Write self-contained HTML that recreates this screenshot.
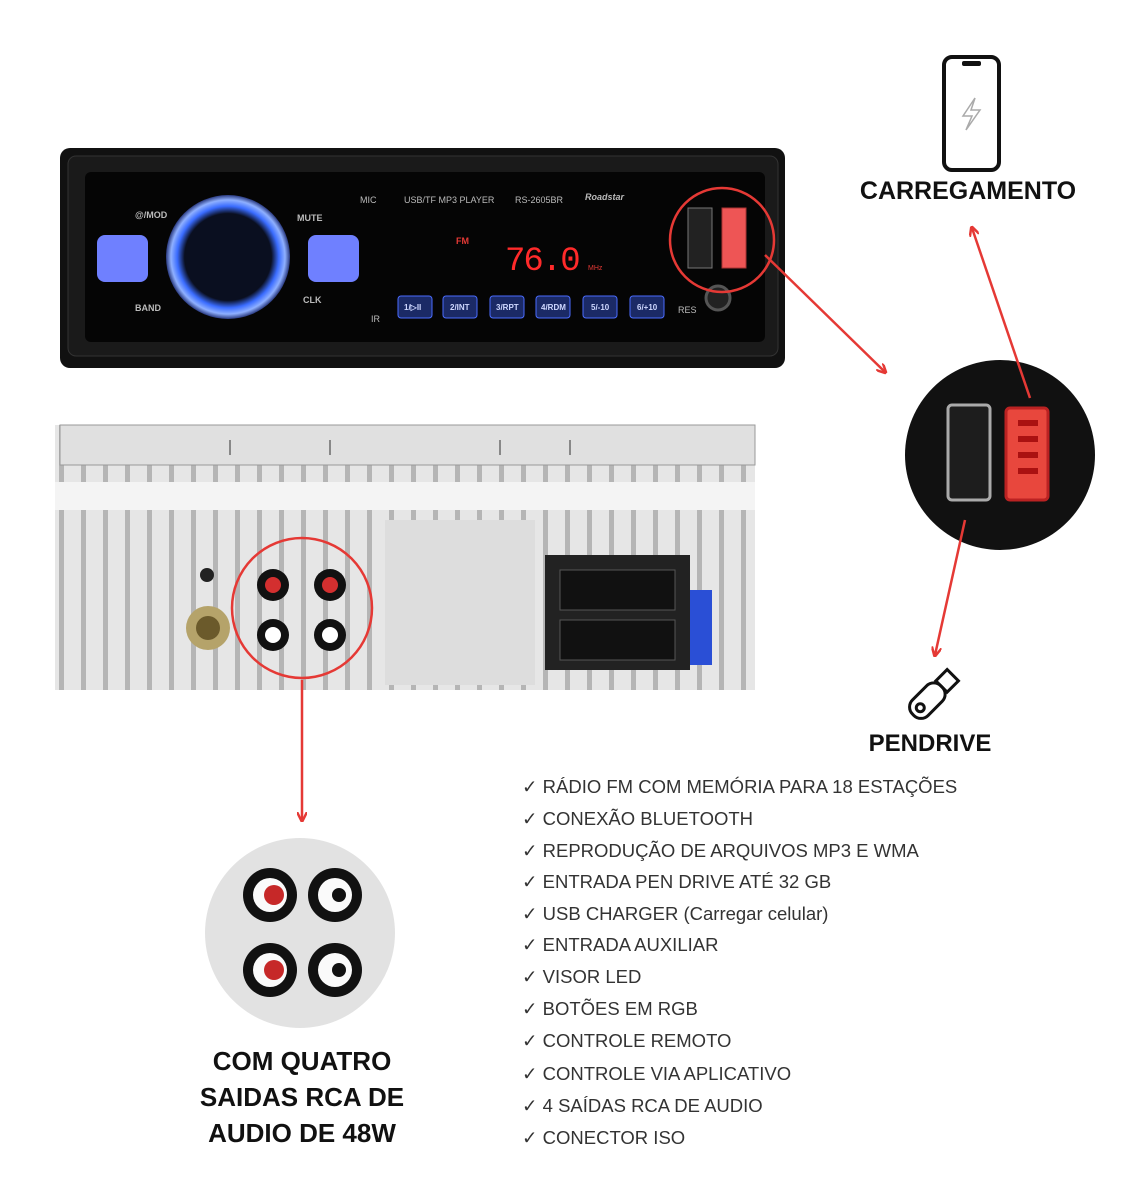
<!DOCTYPE html>
<html><head><meta charset="utf-8"><style>
body{margin:0;background:#fff;width:1148px;height:1200px;overflow:hidden;font-family:"Liberation Sans",sans-serif}
svg{position:absolute;left:0;top:0}
</style></head><body>
<svg width="1148" height="1200" viewBox="0 0 1148 1200" xmlns="http://www.w3.org/2000/svg">
<defs>
<radialGradient id="knob" cx="50%" cy="50%" r="50%"><stop offset="70%" stop-color="#0a0f20"/><stop offset="82%" stop-color="#3a6cff"/><stop offset="92%" stop-color="#8fb0ff"/><stop offset="100%" stop-color="#2a3a80"/></radialGradient>
<marker id="ah" markerWidth="10" markerHeight="10" refX="8" refY="5" orient="auto" markerUnits="userSpaceOnUse"><path d="M0,0 L10,5 L0,10" fill="none" stroke="#e53935" stroke-width="2.5"/></marker>
<pattern id="fins" width="22" height="10" patternUnits="userSpaceOnUse"><rect width="22" height="10" fill="#e6e6e6"/><rect x="15" width="5" height="10" fill="#b5b5b5"/></pattern>
</defs>
<rect x="60" y="148" width="725" height="220" rx="10" fill="#111"/>
<rect x="68" y="156" width="710" height="200" rx="8" fill="#1a1a1a" stroke="#333"/>
<rect x="85" y="172" width="680" height="170" rx="6" fill="#050505"/>
<rect x="97" y="235" width="51" height="47" rx="8" fill="#6f80ff"/>
<rect x="308" y="235" width="51" height="47" rx="8" fill="#6f80ff"/>
<circle cx="228" cy="257" r="62" fill="url(#knob)"/>
<g fill="#bbb" font-size="9" font-weight="bold">
<text x="135" y="218">@/MOD</text><text x="297" y="221">MUTE</text><text x="135" y="311">BAND</text><text x="303" y="303">CLK</text>
<text x="360" y="203" font-weight="normal">MIC</text><text x="404" y="203" font-weight="normal">USB/TF MP3 PLAYER</text><text x="515" y="203" font-weight="normal">RS-2605BR</text><text x="585" y="200" font-style="italic">Roadstar</text>
<text x="678" y="313" font-weight="normal">RES</text><text x="371" y="322" font-weight="normal">IR</text>
</g>
<text x="456" y="244" fill="#e53935" font-size="9" font-weight="bold">FM</text>
<text x="505" y="270" fill="#ff2a2a" font-size="34" font-family="Liberation Mono" letter-spacing="-2">76.0</text>
<text x="588" y="270" fill="#e53935" font-size="7">MHz</text>
<g fill="#1b2a66" stroke="#4a6cff" stroke-width="1">
<rect x="398" y="296" width="34" height="22" rx="3"/><rect x="443" y="296" width="34" height="22" rx="3"/><rect x="490" y="296" width="34" height="22" rx="3"/><rect x="536" y="296" width="34" height="22" rx="3"/><rect x="583" y="296" width="34" height="22" rx="3"/><rect x="630" y="296" width="34" height="22" rx="3"/>
</g>
<g fill="#cfd8ff" font-size="8" font-weight="bold"><text x="404" y="310">1/▷II</text><text x="450" y="310">2/INT</text><text x="496" y="310">3/RPT</text><text x="541" y="310">4/RDM</text><text x="591" y="310">5/-10</text><text x="637" y="310">6/+10</text></g>
<circle cx="718" cy="298" r="12" fill="#222" stroke="#555" stroke-width="3"/>
<rect x="688" y="208" width="24" height="60" fill="#222" stroke="#777"/>
<rect x="722" y="208" width="24" height="60" fill="#e55" stroke="#a33"/>
<circle cx="722" cy="240" r="52" fill="none" stroke="#e53935" stroke-width="2.5"/>
<line x1="765" y1="255" x2="885" y2="372" stroke="#e53935" stroke-width="2.5" marker-end="url(#ah)"/>
<rect x="944" y="57" width="55" height="113" rx="8" fill="none" stroke="#111" stroke-width="4"/>
<rect x="962" y="61" width="19" height="5" rx="2" fill="#111"/>
<path d="M975,98 L963,116 L972,116 L966,130 L980,110 L971,110 Z" fill="none" stroke="#aaa" stroke-width="1.5"/>
<text x="968" y="199" text-anchor="middle" font-size="25" font-weight="bold" fill="#111">CARREGAMENTO</text>
<circle cx="1000" cy="455" r="95" fill="#111"/>
<rect x="948" y="405" width="42" height="95" rx="4" fill="#1d1d1d" stroke="#aaa" stroke-width="3"/>
<rect x="1006" y="408" width="42" height="92" rx="4" fill="#e8473d" stroke="#b22" stroke-width="3"/>
<g fill="#a11"><rect x="1018" y="420" width="20" height="6"/><rect x="1018" y="436" width="20" height="6"/><rect x="1018" y="452" width="20" height="6"/><rect x="1018" y="468" width="20" height="6"/></g>
<line x1="1030" y1="398" x2="972" y2="228" stroke="#e53935" stroke-width="2.5" marker-end="url(#ah)"/>
<line x1="965" y1="520" x2="935" y2="655" stroke="#e53935" stroke-width="2.5" marker-end="url(#ah)"/>
<g transform="translate(933,695) rotate(-45)" fill="none" stroke="#111" stroke-width="3"><rect x="-28" y="-11" width="40" height="22" rx="10"/><rect x="12" y="-8" width="16" height="16"/><circle cx="-18" cy="0" r="4"/></g>
<text x="930" y="751" text-anchor="middle" font-size="24" font-weight="bold" fill="#111">PENDRIVE</text>
<rect x="55" y="425" width="700" height="265" fill="url(#fins)"/>
<rect x="60" y="425" width="695" height="40" fill="#e0e0e0" stroke="#999"/>
<g stroke="#888" stroke-width="2"><line x1="230" y1="440" x2="230" y2="455"/><line x1="330" y1="440" x2="330" y2="455"/><line x1="500" y1="440" x2="500" y2="455"/><line x1="570" y1="440" x2="570" y2="455"/></g>
<rect x="55" y="482" width="700" height="28" fill="#f4f4f4"/>
<rect x="385" y="520" width="150" height="165" fill="#ddd"/>
<rect x="545" y="555" width="145" height="115" fill="#222"/>
<rect x="560" y="570" width="115" height="40" fill="#111" stroke="#555"/><rect x="560" y="620" width="115" height="40" fill="#111" stroke="#555"/>
<rect x="690" y="590" width="22" height="75" fill="#2a4fd6"/>
<circle cx="208" cy="628" r="22" fill="#b5a36a"/><circle cx="208" cy="628" r="12" fill="#6b5a2b"/>
<circle cx="207" cy="575" r="7" fill="#222"/>
<g fill="#111"><circle cx="273" cy="585" r="16"/><circle cx="330" cy="585" r="16"/><circle cx="273" cy="635" r="16"/><circle cx="330" cy="635" r="16"/></g>
<g fill="#d32f2f"><circle cx="273" cy="585" r="8"/><circle cx="330" cy="585" r="8"/></g>
<g fill="#fff"><circle cx="273" cy="635" r="8"/><circle cx="330" cy="635" r="8"/></g>
<circle cx="302" cy="608" r="70" fill="none" stroke="#e53935" stroke-width="2.5"/>
<line x1="302" y1="680" x2="302" y2="820" stroke="#e53935" stroke-width="2.5" marker-end="url(#ah)"/>
<circle cx="300" cy="933" r="95" fill="#e2e2e2"/>
<g fill="#111"><circle cx="270" cy="895" r="27"/><circle cx="335" cy="895" r="27"/><circle cx="270" cy="970" r="27"/><circle cx="335" cy="970" r="27"/></g>
<g fill="#fafafa"><circle cx="270" cy="895" r="17"/><circle cx="335" cy="895" r="17"/><circle cx="270" cy="970" r="17"/><circle cx="335" cy="970" r="17"/></g>
<g fill="#c62828"><circle cx="274" cy="895" r="10"/><circle cx="274" cy="970" r="10"/></g>
<g fill="#111"><circle cx="339" cy="895" r="7"/><circle cx="339" cy="970" r="7"/></g>
<g font-size="26" font-weight="bold" fill="#111" text-anchor="middle"><text x="302" y="1070">COM QUATRO</text><text x="302" y="1106">SAIDAS RCA DE</text><text x="302" y="1142">AUDIO DE 48W</text></g>
<g font-size="18.5" fill="#333">
<text x="522" y="793">✓ RÁDIO FM COM MEMÓRIA PARA 18 ESTAÇÕES</text>
<text x="522" y="825">✓ CONEXÃO BLUETOOTH</text>
<text x="522" y="857">✓ REPRODUÇÃO DE ARQUIVOS MP3 E WMA</text>
<text x="522" y="888">✓ ENTRADA PEN DRIVE ATÉ 32 GB</text>
<text x="522" y="920">✓ USB CHARGER (Carregar celular)</text>
<text x="522" y="951">✓ ENTRADA AUXILIAR</text>
<text x="522" y="983">✓ VISOR LED</text>
<text x="522" y="1015">✓ BOTÕES EM RGB</text>
<text x="522" y="1047">✓ CONTROLE REMOTO</text>
<text x="522" y="1080">✓ CONTROLE VIA APLICATIVO</text>
<text x="522" y="1112">✓ 4 SAÍDAS  RCA DE AUDIO</text>
<text x="522" y="1144">✓ CONECTOR ISO</text>
</g>
</svg>
</body></html>
